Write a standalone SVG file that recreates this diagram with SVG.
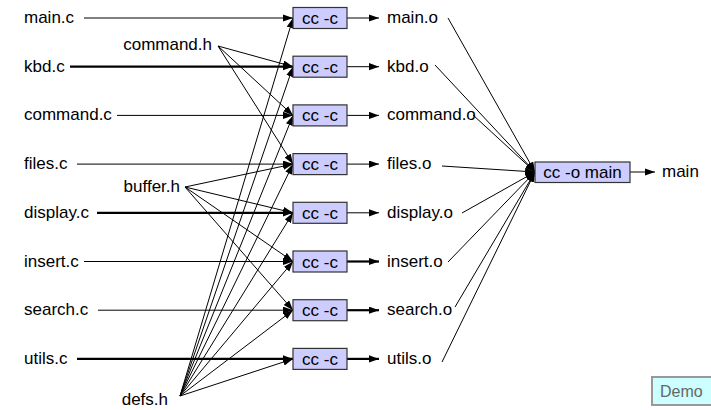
<svg xmlns="http://www.w3.org/2000/svg" width="711" height="410" viewBox="0 0 711 410">
<defs>
<marker id="ah" markerUnits="userSpaceOnUse" markerWidth="12" markerHeight="10" refX="10" refY="3.6" orient="auto">
<path d="M0,0 L10,3.6 L0,7.2 Z" fill="#000"/>
</marker>
<style>
text{font-family:"Liberation Sans",Arial,Helvetica,sans-serif;font-size:17px;fill:#000}
.box{fill:#ccccff;stroke:#333;stroke-width:1.2}
.e{stroke:#000;stroke-width:1;fill:none;marker-end:url(#ah)}
.b{stroke-width:2.2}
.mid{text-anchor:middle}
.end{text-anchor:end}
</style>
</defs>
<rect width="711" height="410" fill="#fff"/>
<g id="connectors">
<line class="e" x1="84" y1="18" x2="293" y2="18"/>
<line class="e b" x1="70" y1="66.7" x2="293" y2="66.7"/>
<line class="e" x1="117" y1="115.4" x2="293" y2="115.4"/>
<line class="e" x1="77" y1="164.1" x2="293" y2="164.1"/>
<line class="e b" x1="97" y1="212.8" x2="293" y2="212.8"/>
<line class="e" x1="84" y1="261.5" x2="293" y2="261.5"/>
<line class="e" x1="98" y1="310.2" x2="293" y2="310.2"/>
<line class="e b" x1="77" y1="358.9" x2="293" y2="358.9"/>
<line class="e" x1="218" y1="46" x2="293" y2="66.7"/>
<line class="e" x1="218" y1="46" x2="293" y2="115.4"/>
<line class="e" x1="218" y1="46" x2="293" y2="164.1"/>
<line class="e" x1="185" y1="187" x2="293" y2="164.1"/>
<line class="e" x1="185" y1="187" x2="293" y2="212.8"/>
<line class="e" x1="185" y1="187" x2="293" y2="261.5"/>
<line class="e" x1="185" y1="187" x2="293" y2="310.2"/>
<line class="e" x1="180" y1="396" x2="293" y2="18"/>
<line class="e" x1="180" y1="396" x2="293" y2="66.7"/>
<line class="e" x1="180" y1="396" x2="293" y2="115.4"/>
<line class="e" x1="180" y1="396" x2="293" y2="164.1"/>
<line class="e" x1="180" y1="396" x2="293" y2="212.8"/>
<line class="e" x1="180" y1="396" x2="293" y2="261.5"/>
<line class="e" x1="180" y1="396" x2="293" y2="310.2"/>
<line class="e" x1="180" y1="396" x2="293" y2="358.9"/>
<line class="e" x1="347" y1="18" x2="379" y2="18"/>
<line class="e" x1="347" y1="66.7" x2="379" y2="66.7"/>
<line class="e" x1="347" y1="115.4" x2="379" y2="115.4"/>
<line class="e" x1="347" y1="164.1" x2="379" y2="164.1"/>
<line class="e" x1="347" y1="212.8" x2="379" y2="212.8"/>
<line class="e b" x1="347" y1="261.5" x2="379" y2="261.5"/>
<line class="e b" x1="347" y1="310.2" x2="379" y2="310.2"/>
<line class="e b" x1="347" y1="358.9" x2="379" y2="358.9"/>
<line class="e" x1="448" y1="18" x2="535" y2="172"/>
<line class="e" x1="435" y1="65" x2="535" y2="172"/>
<line class="e" x1="473" y1="115" x2="535" y2="172"/>
<line class="e" x1="442" y1="166" x2="535" y2="172"/>
<line class="e" x1="462" y1="213" x2="535" y2="172"/>
<line class="e" x1="448" y1="262" x2="535" y2="172"/>
<line class="e" x1="455" y1="307" x2="535" y2="172"/>
<line class="e" x1="442" y1="362" x2="535" y2="172"/>
<line class="e" x1="630" y1="172" x2="655" y2="172"/>
</g>
<g id="sources">
<g id="main_c"><text x="24" y="23">main.c</text></g>
<g id="kbd_c"><text x="24" y="71.7">kbd.c</text></g>
<g id="command_c"><text x="24" y="120.4">command.c</text></g>
<g id="files_c"><text x="24" y="169.1">files.c</text></g>
<g id="display_c"><text x="24" y="217.8">display.c</text></g>
<g id="insert_c"><text x="24" y="266.5">insert.c</text></g>
<g id="search_c"><text x="24" y="315.2">search.c</text></g>
<g id="utils_c"><text x="24" y="363.9">utils.c</text></g>
</g>
<g id="headers">
<g id="command_h"><text x="212" y="50" class="end">command.h</text></g>
<g id="buffer_h"><text x="180" y="192" class="end">buffer.h</text></g>
<g id="defs_h"><text x="168" y="405" class="end">defs.h</text></g>
</g>
<g id="compile">
<g id="cc1"><rect class="box" x="293" y="7.5" width="54" height="21"/><text x="320" y="24" class="mid">cc -c</text></g>
<g id="cc2"><rect class="box" x="293" y="56.2" width="54" height="21"/><text x="320" y="72.7" class="mid">cc -c</text></g>
<g id="cc3"><rect class="box" x="293" y="104.9" width="54" height="21"/><text x="320" y="121.4" class="mid">cc -c</text></g>
<g id="cc4"><rect class="box" x="293" y="153.6" width="54" height="21"/><text x="320" y="170.1" class="mid">cc -c</text></g>
<g id="cc5"><rect class="box" x="293" y="202.3" width="54" height="21"/><text x="320" y="218.8" class="mid">cc -c</text></g>
<g id="cc6"><rect class="box" x="293" y="251" width="54" height="21"/><text x="320" y="267.5" class="mid">cc -c</text></g>
<g id="cc7"><rect class="box" x="293" y="299.7" width="54" height="21"/><text x="320" y="316.2" class="mid">cc -c</text></g>
<g id="cc8"><rect class="box" x="293" y="348.4" width="54" height="21"/><text x="320" y="364.9" class="mid">cc -c</text></g>
</g>
<g id="objects">
<g id="main_o"><text x="387" y="23">main.o</text></g>
<g id="kbd_o"><text x="387" y="71.7">kbd.o</text></g>
<g id="command_o"><text x="387" y="120.4">command.o</text></g>
<g id="files_o"><text x="387" y="169.1">files.o</text></g>
<g id="display_o"><text x="387" y="217.8">display.o</text></g>
<g id="insert_o"><text x="387" y="266.5">insert.o</text></g>
<g id="search_o"><text x="387" y="315.2">search.o</text></g>
<g id="utils_o"><text x="387" y="363.9">utils.o</text></g>
</g>
<g id="link"><rect class="box" x="535" y="162" width="95" height="20.5"/><text x="582.5" y="178" class="mid">cc -o main</text></g>
<g id="main"><text x="662" y="177">main</text></g>
<g id="demo"><rect x="652" y="377" width="60" height="28" fill="#ccffff" stroke="#999" stroke-width="2"/><text x="660" y="397" style="fill:#666;font-size:16px">Demo</text></g>
</svg>
